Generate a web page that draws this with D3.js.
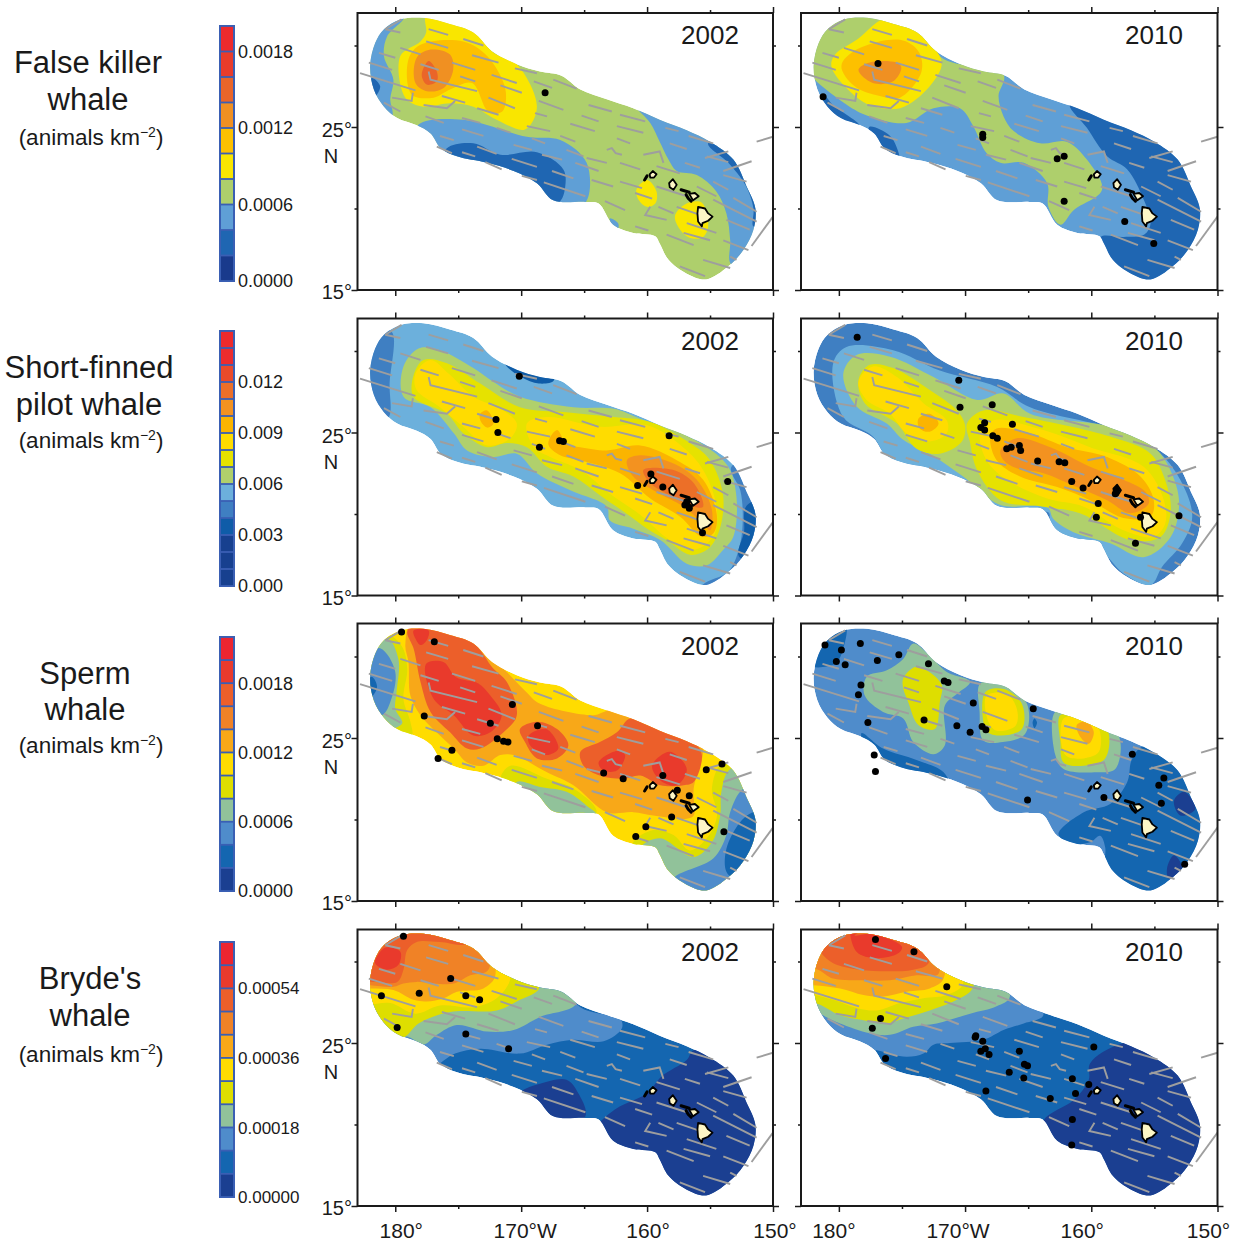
<!DOCTYPE html>
<html>
<head>
<meta charset="utf-8">
<script src="https://cdn.jsdelivr.net/npm/d3@7"></script>
<style>
html, body { margin: 0; padding: 0; background: #fff; }
text { font-family: "Liberation Sans", Arial, sans-serif; fill: #1a1a1a; }
</style>
</head>
<body>
<div id="visuals"></div>
<script>
/* global d3 */
var width = 1234;
var height = 1242;

// species, years and legends
var species = [["False killer", "whale"], ["Short-finned", "pilot whale"], ["Sperm", "whale"], ["Bryde's", "whale"]];
var years = ["2002", "2010"];
var legend_max = [0.002, 0.015, 0.0022, 0.00066];
var legend_ticks = [
	[0, 0.0006, 0.0012, 0.0018],
	[0, 0.003, 0.006, 0.009, 0.012],
	[0, 0.0006, 0.0012, 0.0018],
	[0, 0.00018, 0.00036, 0.00054]
];
var legend_digits = [4, 3, 4, 5];
var fkw_colors = ["#193a8c", "#1f66b2", "#5f9fd6", "#aecf6c", "#f9e600", "#fdc000", "#f09022", "#ea6529", "#e93c2b", "#ed2a2c"];
var pilot_colors = ["#17408f", "#17408f", "#17408f", "#0f5ca8", "#3f7fc2", "#6cb0dc", "#b0d06c", "#e6e200", "#ffdc00", "#fbb400", "#f39220", "#ec6f28", "#ea4a2a", "#ec2c2e", "#ee2a2c"];
var sperm_colors = ["#1b3f91", "#1466b0", "#4f8ccb", "#91c29a", "#dede00", "#ffdc00", "#f8a818", "#f08226", "#ec5f2a", "#e93a2c", "#ec2530"];
var species_colors = [fkw_colors, pilot_colors, sperm_colors, sperm_colors];

// axes, degrees west and north
var lon_major = [180, 170, 160, 150];
var lon_minor = [175, 165, 155];
var lon_labels = ["180°", "170°W", "160°", "150°"];
var lat_major = [25, 15];
var lat_minor = [30, 20];

// survey area boundary, lon lat pairs
var study_area = [179.6,31.6, 177.75,31.7, 175.6,31.3, 173.8,30.8, 172.3,29.65, 170.35,28.85, 168.5,28.4, 166.8,28.15, 165.3,27.3, 163.2,26.7, 161.1,26.15, 159,25.45, 156.85,24.8, 155,24.1, 153.15,23, 152.1,21.35, 151.4,20, 151.55,18.7, 152.35,17.45, 153.55,16.45, 155.3,15.65, 156.85,16, 158.3,16.85, 159,17.85, 159.35,18.3, 161.1,18.5, 162.7,19, 163.85,20.3, 164.9,20.4, 167.45,20.5, 168.75,21.55, 170.6,22.3, 172.7,22.8, 175.1,23.2, 176.4,23.7, 177.2,24.6, 178.3,25.1, 179.85,25.55, 180.9,26.25, 181.7,27.3, 182,28.75, 181.6,30.15, 180.9,31];

// main Hawaiian islands
var island_fills = [
	[155.95,20.1, 155.4,20, 155.15,19.7, 154.8,19.5, 155.15,19.25, 155.6,19.1, 155.65,18.9, 155.95,19.2, 156,19.7],
	[159.8,22.1, 159.55,22.3, 159.25,22.1, 159.45,21.9, 159.75,21.9],
	[158.25,21.55, 157.95,21.8, 157.65,21.45, 157.9,21.15, 158.2,21.3],
	[156.65,20.9, 156.2,20.95, 155.9,20.75, 156.35,20.5]
];
var island_dark = [
	[160.2,21.75, 160,22],
	[157.3,21.15, 156.65,21],
	[156.9,20.85, 156.75,20.65],
	[156.7,20.6, 156.5,20.45]
];

// transect lines on effort
var transects = [
	[180.8,31, 179.5,31.6], [180.8,31, 179.6,30.8], [177.35,31, 175.8,30.65], [174.6,30.4, 173,30], [177.55,30.25, 175.8,29.85],
	[179.6,29.85, 178,29.45], [181.3,29.55, 180,29.25], [175.5,28.95, 173.65,28.5], [173.9,29.4, 171.8,28.95], [182.1,28.95, 180.25,28.5],
	[178,28.85, 176.55,28.5], [172.35,28.2, 170.35,27.7], [170.5,28.6, 168.75,28.3], [182.8,28.3, 178.4,27.25], [177.35,28.4, 177.2,27.9, 173.5,27.2],
	[174.85,28.1, 173.65,27.8], [180.25,26.8, 178.7,26.6, 178.6,27.1], [172.6,26.8, 170.5,26.15], [171.65,27.55, 169.95,27.1], [176.3,26.9, 174.45,26.5],
	[167.45,27.9, 165.6,27.35], [169,27.8, 167.55,27.4], [177.75,26.35, 175.9,26.15, 175.25,26.6], [180.9,26.5, 179.6,25.95], [173.5,26.15, 171.8,25.75],
	[168.6,26.6, 166.65,26.05], [164.65,26.35, 162.8,25.95], [177.6,25.65, 176.15,25.25], [174.7,25.55, 173.25,25.25], [168.9,25.85, 167.95,25.65],
	[165.2,25.7, 163.85,25.35], [162.15,25.75, 160.15,25.35], [169.55,25.05, 167.7,24.75], [166.1,25.2, 164.15,24.75], [162.4,25.05, 160.3,24.65],
	[174.7,24.85, 173,24.45], [171.95,24.95, 170.85,24.65], [158.55,24.95, 157.5,24.75], [156.7,24.45, 154.75,24], [176.45,24.45, 175.35,24.2],
	[166.9,24.45, 165.7,24.1], [163.2,23.6, 162.8,23.7, 162.5,23.4, 162,23.3], [173.5,23.8, 171.95,23.35], [170.6,23.9, 169.15,23.6], [169.15,24.3, 168.1,24],
	[158.2,24, 156.85,23.65], [176.7,23.8, 175.5,23.4], [162.4,24.3, 161.35,24], [166.4,23.6, 165.05,23.2], [155.4,23.1, 153.55,23.5],
	[174.7,23.45, 173.65,23.2], [170.75,23.05, 168.75,22.55], [168.35,23.3, 166.75,23], [164.8,23.1, 163.2,22.8], [160.3,23.3, 159,23.5, 158.7,22.8],
	[153.95,22.3, 151.7,22.9], [155.25,23.2, 153.55,22.85], [172.85,22.85, 171.55,22.4], [167.55,22.3, 165.85,21.85], [165.7,22.8, 163.85,22.3],
	[162.15,22.8, 160.55,22.4], [169.95,22, 168.75,21.75], [168.2,21.6, 164.9,20.75], [164.4,21.75, 162.7,21.35], [153.95,22.05, 152.1,21.65],
	[162.15,21.65, 160.4,21.25], [159.25,22.6, 157.4,22.15], [157,22.8, 155.8,22.5], [154.75,21.65, 153.55,21.15], [163.35,20.45, 161.75,19.9],
	[153.15,20.65, 151.3,19.8], [160.95,20.95, 159.6,20.6], [159.25,21.35, 156.85,20.75], [156.05,21.35, 154.5,20.75], [157.65,20.1, 155,19.4],
	[154.75,20.55, 151.3,19.2], [159.75,20.1, 160.15,19.6, 158.45,19.3], [159.1,20.1, 157.9,19.7], [153.7,19.3, 151.85,18.7], [156.85,19.1, 154.5,18.5],
	[160.95,18.9, 159.9,18.65], [158.45,18.4, 156.3,17.75], [153.95,18.05, 151.95,17.45], [157.1,18.5, 155,18.05], [155.55,16.85, 153.4,16.35],
	[157.4,16.45, 155.4,15.85], [153.4,17.05, 152.9,16.85], [151.3,24.1, 150,24.4], [151.7,17.7, 150,19.5]
];

// density bands per panel: [bin, ring of lon lat pairs], painted in order over the base bin
var fkw_2002_base = 3;
var fkw_2002_bands = [
	[2, [179.35,31.7, 180.65,30.55, 180.9,29.35, 180.15,27.9, 180.4,26.7, 180.25,25.65, 181.7,25.05, 183.3,27.7, 182.8,31.6]],
	[1, [181.85,28, 181.2,27.5, 181.6,26.9, 182.1,27.5]],
	[4, [177.55,31.8, 173.8,31, 172.2,29.55, 170.35,28.85, 168.75,26.25, 169.7,24.85, 171.95,25.45, 173.8,26.25, 175.65,26.45, 177.75,26.25, 179.2,26.8, 179.6,29.35, 178,30.25, 177.55,30.8]],
	[5, [178,30.05, 174.6,30.25, 172.7,29.35, 171.25,27.3, 171.5,25.95, 172.6,25.95, 173.9,27.7, 175.65,27.3, 176.95,26.8, 178.7,27, 178.95,29.15]],
	[6, [177.2,29.75, 175.65,29.45, 175.4,28.5, 176.15,27.4, 177.5,27.2, 178.4,27.7, 178.3,29.25]],
	[7, [177.35,29.05, 176.7,28.4, 176.7,27.8, 177.5,27.6, 177.9,28.2]],
	[2, [178.15,25.15, 174.6,25.45, 169.55,24.4, 166.9,24.2, 164.8,22.8, 164.9,20.35, 167.45,19.7, 176.4,22.15, 178.3,24]],
	[1, [175.9,23.7, 173.8,24, 171.65,23.3, 168.75,23.45, 166.65,22.4, 166.5,21.35, 166.9,20.45, 167.95,20.1, 176.4,22.6]],
	[2, [161,26.35, 157.9,25.45, 150,23.6, 150,16.45, 153.3,16.55, 153.4,18.05, 153.7,19.7, 154.5,21.05, 156.05,22.05, 157.65,22.3, 158.3,23, 159,24.1, 159.75,25.25]],
	[2, [162.95,19.4, 162.3,19.1, 162.3,18.8, 162.8,19]],
	[1, [155.15,24, 153.55,22.8, 152.2,21.45, 151.55,20, 151.55,18.9, 150,19.5, 150,24.2]],
	[4, [160.85,21.15, 160,21.75, 159.25,21.05, 159.35,20.3, 160,20.1, 160.65,20.5]],
	[4, [157.8,19.5, 156.85,20.3, 155.65,20.35, 155.15,18.9, 155.65,18.2, 156.85,18.3]]
];
var fkw_2002_sightings = [168.1,27.1];

var fkw_2010_base = 2;
var fkw_2010_bands = [
	[1, [181.3,27, 180.4,26.3, 178.3,25, 179.5,24.6, 182,26]],
	[1, [177.6,25, 176,24.5, 175.3,23.5, 175.2,22.8, 176.9,23.4]],
	[1, [161.7,26.5, 160.35,24.95, 158.75,23.2, 157.15,22.4, 155.85,20.55, 155.3,19.1, 155.8,18.4, 157.45,18.25, 159.25,18.25, 159.15,17.25, 157.4,15.2, 150,15.2, 150,27]],
	[3, [182.5,31.8, 177.3,32, 173,31, 171.85,29.25, 166.95,28.2, 167.35,26.9, 166.95,25.65, 166.15,24.75, 164.05,24, 161.95,24.1, 160.35,23, 159.15,21.15, 161.4,19.9, 162.45,19, 163.4,20.1, 163.5,21.55, 165.35,22.8, 167.2,22.8, 168.3,23.4, 169.35,25.05, 170.4,26.15, 172.5,26.15, 174.65,25.25, 177.55,25.65, 179.15,26.25, 182.05,28, 183,29]],
	[4, [180.3,29.45, 178.5,30.4, 176.5,31.6, 174.9,31.3, 173.3,30.55, 171.85,28.95, 172.8,27.5, 175.15,26.15, 177.55,26.35, 179.4,27.4, 180.6,28.75]],
	[5, [179.8,28.75, 178.6,29.75, 175.15,30.35, 173.7,29.65, 173.45,28.4, 175.15,26.8, 176.75,26.9, 178.75,27.5]],
	[6, [178.45,28.5, 177.55,28.95, 175.45,28.95, 175.05,28.65, 175.7,27.8, 177.3,27.7]]
];
var fkw_2010_sightings = [176.9,28.9, 181.25,26.85, 168.6,24.55, 168.6,24.35, 162.7,23.05, 162.15,23.2, 162.15,20.45, 157.35,19.2, 155.05,17.85];

var pilot_2002_base = 5;
var pilot_2002_bands = [
	[4, [180.3,31.2, 180.45,28, 180.55,25.9, 182,25.5, 183.5,28, 182,31]],
	[4, [153.3,22.9, 152.6,21.45, 152.4,20, 152.6,18.2, 153.5,16.5, 155.65,15.6, 156,14.5, 149,14.5, 149,23.5]],
	[3, [152.1,20.5, 152.3,18.9, 152.7,17.4, 150,17, 150,21]],
	[3, [171.3,29.3, 170,28.4, 168.6,28, 167.4,28.2, 168,29.5, 170.5,30]],
	[6, [179.35,29.05, 178.15,30.15, 176.45,30.05, 173.8,28.95, 172.2,28.1, 170.1,27.2, 165.85,26.55, 162.65,26.45, 160.55,25.85, 157.9,25.15, 155.25,24.1, 153.55,22.9, 152.9,21.05, 153.15,18.6, 153.95,17.8, 155.25,16.85, 156.85,16.95, 158.95,18.4, 161.1,19.1, 162.95,19.6, 163.2,20.45, 166.1,21.45, 168.75,22.5, 170.35,23.7, 172.2,23.5, 174.3,23.9, 175.35,24.95, 177.2,26.55, 179.35,27.2]],
	[7, [178.55,28.5, 177.75,29.45, 175.9,29.25, 173.25,28, 170.1,26.55, 166.4,26.25, 162.65,25.95, 159.75,25.65, 156.6,24.35, 155,23.3, 153.95,21.05, 154.35,18.8, 155.25,17.8, 156.6,17.5, 158.45,18.4, 160,19.1, 161.6,20, 163.75,21.15, 165.85,22.3, 167.95,22.9, 169.55,24.1, 171.15,24.35, 172.7,24.1, 174.6,24.95, 175.9,26.15, 178.55,27.2]],
	[8, [178.4,28.6, 177.2,29.45, 175.75,28.6, 173.8,27.2, 171.65,26.45, 170.35,25.55, 170.85,24.65, 172.7,24.2, 174.6,25.35, 176.45,26.55, 178.3,27.6]],
	[8, [169.55,25.55, 167.95,25.95, 163.75,25.35, 160,25.45, 156.85,23.9, 155.4,22.5, 154.45,20.25, 154.75,18.6, 156.3,17.8, 158.2,18.4, 160.55,19.95, 162.95,21.25, 165.3,22.7, 167.7,23.5, 169,24.1]],
	[9, [173.25,26.15, 172.7,26.35, 172.2,25.55, 172.7,25.3, 173.25,25.75]],
	[9, [167.85,24.3, 167.15,25.15, 166.4,24.3, 165.3,24.1, 163.2,23.9, 160.55,24.2, 157.65,23.3, 155.55,22.1, 154.45,19.85, 154.75,18.8, 155.65,18.6, 157.4,19.85, 159.75,20.95, 162.15,22.5, 165.3,23.3, 166.9,23.6]],
	[10, [161.6,23.3, 160.55,23.6, 157.9,23.1, 156.05,22.1, 154.85,20.25, 155,19, 155.55,19.4, 157.1,20.45, 159.25,21.35, 161.1,22.3]],
	[11, [160.3,22.7, 157.9,22.7, 156.3,21.9, 155.55,20.45, 156.3,20.45, 158.2,21.15, 159.75,21.9]]
];
var pilot_2002_sightings = [170.15,28.45, 172,25.8, 171.85,25, 168.55,24.1, 166.95,24.5, 166.65,24.45, 158.25,24.8, 153.6,22, 159.7,22.45, 160.75,21.75, 158.75,21.65, 155.6,18.85, 156.85,20.75, 156.65,20.35, 157,20.55];

var pilot_2010_base = 4;
var pilot_2010_bands = [
	[5, [180.45,29.25, 179.4,30.25, 175.7,30.05, 172,28.8, 167.5,27.8, 164.85,26.55, 157.95,25.15, 154.8,23.9, 152.95,22.1, 152,19.85, 152.8,18.2, 154.4,16.75, 155.3,15.65, 157.45,16.35, 159.3,17.8, 161.4,18.4, 163.25,19.4, 163.4,20.1, 167.5,19.5, 172,21, 175.95,23.1, 177.3,24.75, 179.65,25.95]],
	[6, [179.65,28.6, 178.6,29.75, 175.95,29.65, 172.5,28.4, 169.05,27, 166.95,27.4, 164.85,26.15, 158.5,25.35, 155.05,24.1, 154,23.1, 153.05,20.85, 153.7,18.6, 155.85,17.35, 158.5,18.2, 161.15,18.8, 163,19.7, 163.5,20.45, 167.2,20.55, 170.15,22.3, 172.8,23.7, 174.9,24.55, 176.2,25.55, 178.6,26.6]],
	[7, [178.45,28.2, 177.55,29.15, 175.7,28.95, 172.8,27.6, 170.65,26.35, 170,25.45, 170.25,24.45, 172,23.7, 173.85,24, 175.4,25.55, 177.95,26.8]],
	[7, [169.85,25.55, 168.55,26.35, 165.35,25.95, 158.5,24.75, 155.3,23.7, 154.25,22.3, 153.7,20.25, 154.5,18.6, 156.9,18.4, 160.9,20.05, 163.8,20.45, 167.2,20.85, 169.05,22.7, 169.6,24.35]],
	[8, [178.45,28.1, 177.3,29.05, 175.4,28.4, 173.3,26.8, 171.45,25.75, 171.45,24.95, 172.8,24.45, 174.65,24.95, 175.95,26.15, 177.8,27]],
	[8, [168.8,24.95, 167.75,25.75, 163.8,25.15, 160.1,24.1, 155.85,22.9, 154.25,20.85, 154.15,19.4, 155.05,18.6, 157.45,19, 160.6,20.45, 163.5,20.95, 166.7,22.1, 168.3,23.3]],
	[9, [173.7,25.85, 172.8,26.15, 172.1,25.55, 172.8,25.05, 173.6,25.25]],
	[9, [168,24.75, 167.5,25.25, 164.85,24.95, 161.95,24.1, 158.75,23.5, 156.1,22.3, 155.05,20.85, 155.3,19.85, 157.45,19.75, 160.1,20.85, 162.7,21.65, 165.65,22.3, 167.5,23.3]],
	[10, [167.2,23.9, 165.9,24.65, 163.25,24.1, 160.1,22.9, 157.45,22.1, 155.7,21.35, 155.45,20.65, 156.9,20.05, 158.75,20.85, 161.15,21.65, 163.8,22.5, 165.9,22.8, 166.95,23.3]]
];
var pilot_2010_sightings = [178.55,30.85, 170.5,28.2, 170.4,26.55, 167.85,26.7, 166.25,25.5, 168.45,25.6, 168.75,25.3, 168.45,25.15, 167.8,24.8, 167.45,24.65, 166.7,24, 166.35,24.1, 165.7,24.2, 165.6,23.9, 164.25,23.25, 162.55,23.2, 162.1,23.15, 161.55,22, 160.65,21.6, 159.45,20.65, 159.6,19.8, 156.1,19.8, 156.5,18.2, 153.05,19.9, 158.1,21.25, 158,21.45];

var sperm_2002_base = 5;
var sperm_2002_bands = [
	[4, [180.4,31.3, 179.45,30.6, 179.05,29.25, 179.35,27.4, 178.8,26, 178.7,25.15, 180.4,25.35, 183.3,28.45, 181.7,31.5]],
	[3, [180.65,31.1, 179.75,29.85, 179.9,27.8, 180,26.8, 179.45,25.9, 180.95,25.55, 183.3,28.45]],
	[2, [181.2,30.5, 180,29.05, 180.4,27.2, 181.05,26.4, 182.8,26.4, 182.8,30.05]],
	[1, [181.85,28.75, 181.45,28.15, 181.85,27.6, 182.5,28.2]],
	[4, [171.65,22.5, 170.85,23.3, 167.95,22.5, 165.85,21.9, 164,20.45, 165.85,19.25, 168.5,20.05, 171.15,21.9]],
	[3, [170.35,22.3, 168.5,22, 166.4,21.7, 164.8,20.85, 164,20.25, 165.85,19.25, 168.5,19.4, 170.6,21.5]],
	[4, [153.95,23.55, 154.85,21.9, 154.45,20.25, 155.15,18.95, 156.6,18.1, 157.9,19.05, 159.5,19.35, 161.1,18.6, 161.1,17.8, 157.9,14.1, 148.7,14.1, 148.7,24.35]],
	[3, [153.4,23.1, 154.1,21.7, 154.2,20.25, 154.85,18.6, 156.3,17.7, 158.95,18.85, 160.4,18.4, 160.55,17.8, 158.95,17, 157.9,14.1, 148.7,14.1, 148.7,23.95]],
	[2, [152.35,21.9, 153.4,20.45, 153.7,19.05, 154.75,17.6, 157.9,16.35, 157.4,15.55, 155.25,14.75, 148.7,16.15, 150,22.3]],
	[1, [151.55,20.45, 152.6,19.85, 153.7,18.2, 153.7,16.8, 152.9,16.35, 150,17.2, 150,20.25]],
	[6, [178.7,32, 173.8,31, 171.95,29.6, 171.15,29.05, 169.7,27.9, 168.5,27.1, 164.25,26.4, 163.45,26.6, 161.9,27, 155.8,25, 155.55,24.15, 156.3,21.9, 156.3,20.25, 156.85,20.05, 159.5,20.25, 161.1,20.45, 163.2,20.45, 165.85,22.1, 167.95,22.9, 170.6,23.95, 171.65,23.95, 173,23.3, 174.3,23.5, 175.35,24.35, 176.45,25.15, 178,26.4, 178.8,27.6, 178.95,29.65, 179.2,30.7]],
	[8, [178.6,32, 174.05,31, 172.2,29.25, 171.15,28.45, 170.35,26.4, 171.4,25.35, 173.25,24.35, 174.3,24.35, 175.65,25.35, 177.2,26.6, 178,28.45, 178.55,30.5, 179.05,31.5]],
	[8, [170.1,25.55, 168.75,26, 167.15,25.55, 166.25,24.55, 167.15,23.75, 168.75,23.75, 169.7,24.75]],
	[8, [165.3,24.15, 163.75,24.75, 162.4,25.35, 161.35,26.2, 160,25.8, 156.3,24.75, 155.65,23.95, 156.3,22.3, 157.1,22.1, 158.95,22.1, 160.55,22.7, 161.9,22.5, 163.75,22.7, 165.05,23.3]],
	[9, [177.55,29.55, 176.15,29.65, 175.2,28.75, 173.4,28.35, 172.45,27.6, 171.55,26.4, 172.45,25.35, 173.8,25.15, 175.35,26.4, 176.95,27.4]],
	[9, [178.55,31.6, 177.35,31.6, 177.5,31, 178,30.7, 178.4,31.1]],
	[9, [169.4,25.15, 168,25.55, 167.05,24.35, 168,23.95, 169.3,24.55]],
	[9, [163.85,23.5, 162.4,24.2, 161.75,23.95, 162.4,23, 163.45,23]],
	[9, [159.6,23.3, 158.2,24.15, 156.85,23.1, 157.65,22.1, 158.95,22.4]]
];
var sperm_2002_sightings = [179.5,31.5, 176.9,30.9, 177.7,26.35, 175.5,24.25, 176.6,23.75, 172.45,25.9, 171.9,24.95, 171.4,24.8, 171.05,24.75, 170.7,27.05, 168.7,25.75, 163.45,22.85, 161.9,22.5, 158.75,22.7, 157.6,21.8, 156.65,21.45, 155.3,23.05, 154.05,23.4, 158.05,20.15, 160.1,19.55, 160.9,18.95, 153.9,19.25];

var sperm_2010_base = 2;
var sperm_2010_bands = [
	[1, [179.5,32, 179.65,30.5, 180.3,29.55, 182.5,29.5, 182,31.5]],
	[1, [178.2,25.3, 176.5,24.35, 173.85,23.65, 171.7,22.9, 171.3,22.1, 175.95,22.2, 177.6,23.8]],
	[1, [156.8,23.65, 155.9,24.5, 150,24.4, 150,15, 157.45,15, 158.9,17, 158.9,18.3, 159.3,19, 160.1,18.6, 161.5,18.5, 162.6,19.1, 160.6,20.45, 158.5,20.95, 157.15,22.3]],
	[0, [153.45,21.15, 152.65,21.7, 151.75,20.65, 152.95,20.25]],
	[0, [153.45,17.8, 152.8,17, 153.85,16.35, 154,17]],
	[1, [164.5,26.2, 164.3,25.95, 164.5,25.6, 164.65,25.95]],
	[3, [177.8,28.75, 176.2,29.15, 174.9,29.85, 174.1,30.8, 172.8,30.05, 171.45,29.05, 169.6,28.45, 170.65,27.7, 171.6,27, 171.6,24.55, 172.5,24, 174.1,24.75, 174.9,26.2, 176.5,26.6, 177.95,27.6]],
	[4, [174.9,28.65, 173.95,29.35, 173.05,29.15, 171.85,28.25, 172,27.2, 172.4,25.55, 173.7,25.8, 174.5,27.2, 174.9,28.05]],
	[3, [168.8,28.35, 167,28.25, 165.1,27.1, 165.25,25.25, 167,24.75, 168.55,24.85, 168.85,26.6]],
	[4, [168.4,27.8, 166.95,28, 165.5,27.1, 165.5,25.55, 167.2,25.15, 168.3,25.45]],
	[5, [168.3,27.6, 166.7,27.7, 165.9,26.8, 166,25.75, 167.5,25.45, 168.15,26]],
	[3, [162.85,26.6, 160.85,26.4, 157.85,25.15, 158.1,23.1, 159.55,22.9, 162.2,23.1, 162.85,23.95]],
	[4, [162.45,26.4, 160.6,26.2, 158.75,25.55, 158.9,23.75, 160.6,23.3, 162.2,23.5, 162.45,24.75]],
	[5, [162.2,26.2, 160.6,26.2, 159.4,25.55, 159.4,24.15, 160.6,23.75, 162.05,23.95]],
	[6, [161.15,25.8, 160.35,26, 159.8,25.35, 160.2,24.65, 160.85,25.05]]
];
var sperm_2010_sightings = [181.1,30.7, 179.8,30.4, 178.3,30.8, 180.2,29.7, 179.5,29.5, 176.95,29.75, 175.25,30.1, 172.9,29.55, 178.25,28.25, 178.45,27.65, 177.7,25.95, 177.2,23.95, 177.1,22.95, 173.25,26.1, 171.65,28.5, 171.35,28.4, 169.35,27.15, 170.65,25.75, 169.6,25.35, 168.65,25.7, 168.35,25.5, 164.6,26.8, 165.05,21.2, 159,21.35, 156.75,24, 154.25,22.55, 154.65,22.1, 154.45,21, 152.6,17.25];

var bryde_2002_base = 1;
var bryde_2002_bands = [
	[0, [156.3,24.55, 156.85,23.95, 158.85,22.95, 160.05,21.9, 162.4,21, 163.75,20.15, 165.85,18.25, 157.9,14.15, 148.65,15.15, 148.65,25.4]],
	[0, [170.1,22, 168.5,22.5, 166.4,22.75, 165.45,21.9, 164.9,20.5, 167.45,19.45, 171.15,21.1]],
	[2, [165.3,27.2, 162.15,26.5, 162,25.9, 163.45,25.1, 165.85,25.2, 167.95,24.9, 170.1,24.35, 173.25,24.65, 175.25,24.35, 176.45,23.75, 177.2,23.35, 181.7,23.35, 184.4,28.45, 176.4,32.5, 168.5,30.5]],
	[3, [165.6,27.45, 168.5,26.6, 170.6,25.8, 172.7,25.7, 175.1,26.1, 176.7,25.5, 177.75,24.9, 179.2,25.4, 181.7,24.35, 184.4,28.45, 176.4,32.5, 167.15,30.5]],
	[4, [168.6,28.35, 170.1,27.65, 171.95,27, 175.65,26.9, 178.15,26.2, 179.2,25.4, 180.4,25.1, 184.4,25.4, 184.4,32.5, 173.8,32.5, 169.55,29.9]],
	[5, [170.85,28.95, 171.95,27.75, 173.8,27.2, 176.45,27.3, 178.4,26.8, 180.4,27.45, 182.1,27.35, 184.4,27.45, 184.4,32.5, 173.8,32.5, 171.15,30.1]],
	[6, [172.05,29.15, 173,28.35, 175.1,28.15, 176.15,27.75, 177.5,27.55, 178.55,27.65, 180.15,28.25, 182.1,28.35, 184.4,28.45, 184.4,32.5, 173.8,32.5]],
	[7, [172.6,29.5, 174.05,29.15, 175.35,28.65, 176.95,28.65, 178.3,28.75, 179.35,28.65, 180.15,28.45, 182.1,28.55, 184.4,28.65, 184.4,32.5, 173.25,32.5]],
	[8, [174.3,31.1, 176.45,31.2, 178.3,31.2, 179.05,30.7, 179.35,29.5, 179.85,28.75, 182.1,28.75, 184.4,28.45, 184.4,32.5, 174.3,32.5]],
	[9, [181.45,30.3, 180.8,30.85, 179.6,30.6, 179.75,29.8, 180.65,29.5, 181.6,29.9]]
];
var bryde_2002_sightings = [179.35,31.55, 175.6,28.95, 178.1,28.05, 181.1,27.9, 179.85,25.95, 174.4,27.9, 173.3,27.65, 174.4,25.55, 171,24.65];

var bryde_2010_base = 1;
var bryde_2010_bands = [
	[0, [157.45,25, 160.1,23.75, 160.2,22.75, 161.4,21.5, 163.8,20.25, 164.3,18.25, 160.1,14.15, 148.2,15.15, 148.2,25.4]],
	[2, [163.8,26.7, 165.35,26.2, 166.95,25.8, 168.55,25.2, 171.2,25, 172.5,24.9, 173.3,24.35, 174.65,24.15, 177,24.55, 178.6,24.8, 182.3,25.4, 183.9,32.55, 175.95,32.55, 165.35,28.45]],
	[3, [166.45,27.85, 167.5,27.25, 169.6,26.8, 172.25,26.2, 174.1,26, 175.95,25.5, 177.55,25.6, 179.9,26.2, 181.25,26.7, 182.55,27.45, 183.9,32.55, 170.65,32.55]],
	[4, [169.35,28.45, 170.65,27.65, 172.8,27, 174.9,26.5, 176.2,26.2, 178.05,26.4, 179.9,26.7, 181.9,27.45, 183.9,27.45, 183.9,32.55, 170.65,32.55]],
	[5, [170.15,28.65, 171.45,27.95, 173.3,27.75, 175.15,27.45, 177,27, 178.6,27.15, 180.45,27.65, 182.05,27.95, 183.9,27.95, 183.9,32.55, 172,32.55]],
	[6, [171.7,28.95, 172.8,28.35, 174.65,28.15, 176.5,27.85, 178.05,27.95, 179.9,28.35, 182,28.55, 183.9,28.65, 183.9,32.55, 172.5,32.55]],
	[7, [172.1,29.25, 173.85,29.15, 175.95,28.85, 178.2,28.85, 180.45,28.95, 181.65,29.5, 183.9,29.9, 183.9,32.55, 173.3,32.55]],
	[8, [172.9,29.9, 174.1,29.5, 175.95,29.4, 178.35,29.5, 180.45,29.9, 181.4,30.5, 182.3,31.5, 183.9,32.55, 173.3,32.55]],
	[9, [178.75,31.6, 177.4,31.7, 175,30.9, 175.3,30.5, 177,30.2, 178.6,30.6, 179,32.2, 177,32.4]]
];
var bryde_2010_sightings = [177.1,31.35, 174.05,30.6, 171.45,28.45, 176.7,26.5, 177.35,25.9, 176.3,24.05, 169.15,25.45, 169.2,25.35, 168.6,25.1, 168.4,24.65, 168.75,24.5, 168.1,24.3, 165.7,24.5, 165.3,23.7, 165.05,23.6, 166.5,23.2, 165.35,22.85, 168.35,22.05, 163.25,21.6, 161.5,22.8, 160.2,22.45, 161.25,21.9, 159.8,24.75, 161.5,20.3, 161.55,18.75];

// row order, each row 2002 then 2010
var panel_bands = [[fkw_2002_bands, fkw_2010_bands], [pilot_2002_bands, pilot_2010_bands], [sperm_2002_bands, sperm_2010_bands], [bryde_2002_bands, bryde_2010_bands]];
var panel_base = [[fkw_2002_base, fkw_2010_base], [pilot_2002_base, pilot_2010_base], [sperm_2002_base, sperm_2010_base], [bryde_2002_base, bryde_2010_base]];
var panel_sightings = [[fkw_2002_sightings, fkw_2010_sightings], [pilot_2002_sightings, pilot_2010_sightings], [sperm_2002_sightings, sperm_2010_sightings], [bryde_2002_sightings, bryde_2010_sightings]];

// layout
var col_x = [[357.5, 773], [801, 1217.5]];
var row_y = [[13, 290], [318.5, 595.5], [623.5, 901], [929.5, 1206]];
var legend_y = [[281, 26], [586, 331], [891, 637], [1197, 942]];
var label_y = [[73, 110, 145], [378, 415, 448], [684, 720, 753], [989, 1026, 1062]];
var label_cx = [88, 89, 85, 90];

var svg = d3.select("#visuals").append("svg")
	.attr("width", width)
	.attr("height", height)
	.style("display", "block");

function pairs(flat) {
	var out = [];
	for (var i = 0; i < flat.length; i += 2) out.push([flat[i], flat[i + 1]]);
	return out;
}

function draw_title(row) {
	var g = svg.append("g").attr("text-anchor", "middle");
	species[row].forEach(function(name, i) {
		g.append("text").attr("x", label_cx[row]).attr("y", label_y[row][i])
			.attr("font-size", 31).text(name);
	});
	var units = g.append("text").attr("x", 91).attr("y", label_y[row][2]).attr("font-size", 22.5);
	units.append("tspan").text("(animals km");
	units.append("tspan").attr("font-size", 14).attr("dy", -8).text("−2");
	units.append("tspan").attr("dy", 8).text(")");
}

function draw_legend(row) {
	var colors = species_colors[row];
	var max = legend_max[row];
	var y = d3.scaleLinear().domain([0, max]).range(legend_y[row]);
	var step = max / colors.length;
	var g = svg.append("g");

	g.append("rect").attr("x", 219).attr("y", y(max) - 1).attr("width", 16)
		.attr("height", y(0) - y(max) + 2).attr("fill", "#3a5fb4");
	g.selectAll("rect.bin")
		.data(colors)
		.enter()
		.append("rect")
		.attr("class", "bin")
		.attr("x", 221)
		.attr("width", 12)
		.attr("y", function(d, i) { return y((i + 1) * step) + 0.9; })
		.attr("height", y(0) - y(step) - 1.8)
		.attr("fill", function(d) { return d; });

	g.selectAll("text")
		.data(legend_ticks[row])
		.enter()
		.append("text")
		.attr("x", 238)
		.attr("y", function(d) { return y(d); })
		.attr("dy", "0.36em")
		.attr("font-size", legend_digits[row] == 5 ? 17 : 18)
		.text(function(d) { return d.toFixed(legend_digits[row]); });
}

function draw_panel(row, col) {
	var x = d3.scaleLinear().domain([183, 150]).range(col_x[col]);
	var y = d3.scaleLinear()
		.domain([15, 15 + (row_y[row][1] - row_y[row][0]) / 16.3])
		.range([row_y[row][1], row_y[row][0]]);
	var colors = species_colors[row];
	var ring = d3.line()
		.x(function(d) { return x(d[0]); })
		.y(function(d) { return y(d[1]); })
		.curve(d3.curveCatmullRomClosed.alpha(0.5));
	var island_ring = d3.line()
		.x(function(d) { return x(d[0]); })
		.y(function(d) { return y(d[1]); })
		.curve(d3.curveLinearClosed);
	var open_line = d3.line()
		.x(function(d) { return x(d[0]); })
		.y(function(d) { return y(d[1]); });
	var clip_area = "area-" + row + "-" + col;
	var clip_frame = "frame-" + row + "-" + col;
	var g = svg.append("g");
	var defs = g.append("defs");

	defs.append("clipPath").attr("id", clip_area)
		.append("path").attr("d", ring(pairs(study_area)));
	defs.append("clipPath").attr("id", clip_frame)
		.append("rect")
		.attr("x", col_x[col][0]).attr("y", row_y[row][0])
		.attr("width", col_x[col][1] - col_x[col][0])
		.attr("height", row_y[row][1] - row_y[row][0]);

	// density bands
	var bands = g.append("g").attr("clip-path", "url(#" + clip_area + ")");
	bands.append("path")
		.attr("d", ring(pairs(study_area)))
		.attr("fill", colors[panel_base[row][col]]);
	bands.selectAll("path.band")
		.data(panel_bands[row][col])
		.enter()
		.append("path")
		.attr("class", "band")
		.attr("d", function(d) { return ring(pairs(d[1])); })
		.attr("fill", function(d) { return colors[d[0]]; });

	// transects
	g.append("g")
		.attr("clip-path", "url(#" + clip_frame + ")")
		.selectAll("path")
		.data(transects)
		.enter()
		.append("path")
		.attr("d", function(d) { return open_line(pairs(d)); })
		.attr("fill", "none")
		.attr("stroke", "#9e9e9e")
		.attr("stroke-width", 1.9);

	// islands
	g.selectAll("path.island")
		.data(island_fills)
		.enter()
		.append("path")
		.attr("class", "island")
		.attr("d", function(d) { return island_ring(pairs(d)); })
		.attr("fill", "#fdf6c6")
		.attr("stroke", "#000")
		.attr("stroke-width", 1.8)
		.attr("stroke-linejoin", "round");
	g.selectAll("path.islet")
		.data(island_dark)
		.enter()
		.append("path")
		.attr("class", "islet")
		.attr("d", function(d) { return open_line(pairs(d)); })
		.attr("stroke", "#000")
		.attr("stroke-width", 3)
		.attr("stroke-linecap", "round");

	// sightings
	g.selectAll("circle")
		.data(pairs(panel_sightings[row][col]))
		.enter()
		.append("circle")
		.attr("cx", function(d) { return x(d[0]); })
		.attr("cy", function(d) { return y(d[1]); })
		.attr("r", 3.5)
		.attr("fill", "#000");

	// frame and ticks
	g.append("rect")
		.attr("x", col_x[col][0]).attr("y", row_y[row][0])
		.attr("width", col_x[col][1] - col_x[col][0])
		.attr("height", row_y[row][1] - row_y[row][0])
		.attr("fill", "none")
		.attr("stroke", "#1a1a1a")
		.attr("stroke-width", 2);

	function add_axis(axis, tx, ty, values, size) {
		var a = g.append("g")
			.attr("transform", "translate(" + tx + "," + ty + ")")
			.call(axis.tickValues(values).tickSize(size).tickFormat(""));
		a.select(".domain").remove();
		a.selectAll("line").attr("stroke", "#1a1a1a").attr("stroke-width", 1.5);
	}
	add_axis(d3.axisTop(x), 0, row_y[row][0], lon_major, 6);
	add_axis(d3.axisTop(x), 0, row_y[row][0], lon_minor, 3);
	add_axis(d3.axisBottom(x), 0, row_y[row][1], lon_major, 6);
	add_axis(d3.axisBottom(x), 0, row_y[row][1], lon_minor, 3);
	add_axis(d3.axisLeft(y), col_x[col][0], 0, lat_major, 6);
	add_axis(d3.axisLeft(y), col_x[col][0], 0, lat_minor, 3);
	add_axis(d3.axisRight(y), col_x[col][1], 0, lat_major, 6);
	add_axis(d3.axisRight(y), col_x[col][1], 0, lat_minor, 3);

	// year
	g.append("text")
		.attr("x", col == 0 ? 710 : 1154)
		.attr("y", row_y[row][0] + 31)
		.attr("text-anchor", "middle")
		.attr("font-size", 26)
		.text(years[col]);

	if (col == 0) {
		g.append("text").attr("x", 352).attr("y", y(25) + 10).attr("text-anchor", "end")
			.attr("font-size", 20).text("25°");
		g.append("text").attr("x", 331).attr("y", y(25) + 36).attr("text-anchor", "middle")
			.attr("font-size", 20).text("N");
		g.append("text").attr("x", 352).attr("y", y(15) + 9).attr("text-anchor", "end")
			.attr("font-size", 20).text("15°");
	}

	if (row == species.length - 1) {
		var nudge = col == 0 ? [6, 4, 1, 2] : [-5, -7, -9, -9];
		lon_major.forEach(function(lon, i) {
			g.append("text")
				.attr("x", x(lon) + nudge[i])
				.attr("y", 1238)
				.attr("text-anchor", "middle")
				.attr("font-size", 21)
				.text(lon_labels[i]);
		});
	}
}

species.forEach(function(s, row) {
	draw_title(row);
	draw_legend(row);
	years.forEach(function(year, col) {
		draw_panel(row, col);
	});
});
</script>
</body>
</html>
